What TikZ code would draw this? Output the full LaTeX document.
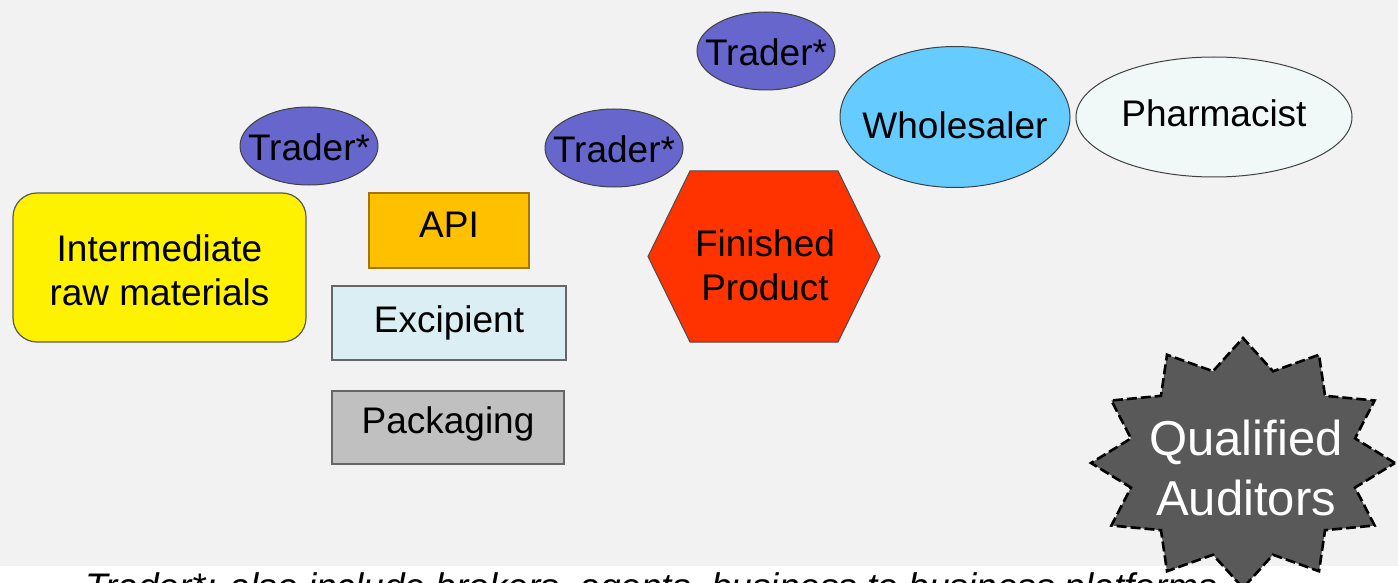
\documentclass[tikz,border=0pt]{standalone}
\usepackage{fontspec}
\setmainfont{Liberation Sans}
\usetikzlibrary{shapes.geometric}

\definecolor{bggray}{HTML}{F2F2F2}
\definecolor{traderblue}{HTML}{6666CC}
\definecolor{wholeblue}{HTML}{66CCFF}
\definecolor{pharmwhite}{HTML}{F0F8F8}
\definecolor{apiorange}{HTML}{FFC000}
\definecolor{apiedge}{HTML}{A07800}
\definecolor{excipblue}{HTML}{DAEEF3}
\definecolor{packgray}{HTML}{C0C0C0}
\definecolor{finred}{HTML}{FF3300}
\definecolor{burstgray}{HTML}{595959}

\begin{document}
\begin{tikzpicture}[x=0.5pt,y=-0.5pt,
  every node/.style={inner sep=0pt, align=center, font=\fontsize{18.5}{22}\selectfont},
  oval/.style={ellipse, draw=black!75, line width=0.5pt},
  trader/.style={oval, fill=traderblue, minimum width=69pt, minimum height=39pt, label={[yshift=-0.5pt]center:Trader*}},
  supply/.style={rectangle, draw=black!60, line width=0.6pt},
]
\useasboundingbox (0,0) rectangle (1398,583);
\clip (0,0) rectangle (1398,583);

%background
\fill[bggray] (0,0) rectangle (1398,566);
\fill[white] (0,566) rectangle (1398,583);

% traders
\node[trader] (trader1) at (309,146) {};
\node[trader] (trader2) at (614,148) {};
\node[trader] (trader3) at (766,51) {};

% distribution
\node[oval, fill=wholeblue, minimum width=115pt, minimum height=70.5pt, label={[yshift=-4pt]center:Wholesaler}] (wholesaler) at (955,117) {};
\node[oval, fill=pharmwhite, minimum width=138pt, minimum height=60pt, label={[yshift=2pt]center:Pharmacist}] (pharmacist) at (1214,117) {};

% starting materials
\node[rectangle, rounded corners=12pt, draw=black!65, line width=0.6pt, fill=yellow, minimum width=146.5pt, minimum height=74.5pt, label={[yshift=-1.5pt]center:Intermediate\\raw materials}] (intermediate) at (159.5,267.5) {};
\node[supply, draw=apiedge, fill=apiorange, minimum width=80pt, minimum height=37.5pt, label={[yshift=3pt]center:API}] (api) at (449,230.5) {};
\node[supply, fill=excipblue, minimum width=117pt, minimum height=37pt] (excipient) at (449,323) {Excipient};
\node[supply, fill=packgray, minimum width=116pt, minimum height=36.5pt, label={[yshift=2pt]center:Packaging}] (packaging) at (448,427.5) {};

% finished product
\draw[black!70, line width=0.5pt, fill=finred] (648,256.5) -- (690,171) -- (838,171) -- (880,256.5) -- (838,342) -- (690,342) -- cycle;
\node (finished) at (765,265) {Finished\\Product};

% auditors
\draw[black, line width=1.3pt, dash pattern=on 5pt off 2pt, fill=burstgray]
  plot[samples at={0,...,23}] ({1243+(152-36*mod(\x,2))*cos(15*\x)}, {463-(125-30*mod(\x,2))*sin(15*\x)}) -- cycle;
\node[white, font=\fontsize{24.5}{30}\selectfont] (auditors) at (1246,468) {Qualified\\Auditors};

% footnote
\node[anchor=base west, font=\fontsize{18.5}{22}\selectfont\itshape] (note) at (85,599.5) {Trader*: also include brokers, agents, business to business platforms};
\end{tikzpicture}
\end{document}
